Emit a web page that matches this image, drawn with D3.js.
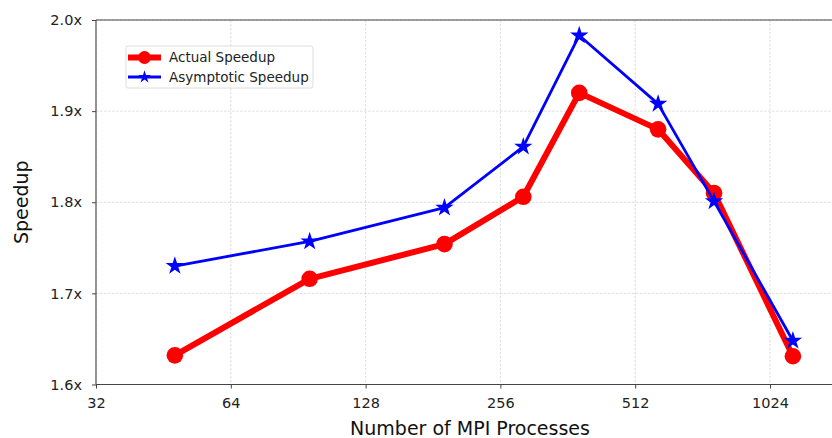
<!DOCTYPE html>
<html><head><meta charset="utf-8">
<script src="https://cdn.jsdelivr.net/npm/d3@7"></script>
<style>body{margin:0;background:#fff;}svg{display:block;font-family:"DejaVu Sans",sans-serif;}</style>
</head><body>
<svg id="c" width="832" height="438"></svg>
<script>
const processes = [48, 96, 192, 288, 384, 576, 768, 1152];
const actualSpeedup = [1.632, 1.716, 1.754, 1.806, 1.920, 1.880, 1.810, 1.631];
const asymptoticSpeedup = [1.730, 1.757, 1.794, 1.861, 1.983, 1.908, 1.801, 1.648];
const xTicks = [32, 64, 128, 256, 512, 1024];
const yTicks = [1.6, 1.7, 1.8, 1.9, 2.0];

(function () {
const svg = d3.select("#c");
const mLeft = 96, mTop = 20, mBottom = 384.5, mRight = 832;
const octave = 134.8;
const x = d3.scaleLog().base(2).domain([32, 1536]).range([mLeft, mLeft + octave * Math.log2(48)]);
const y = d3.scaleLinear().domain([1.6, 2.0]).range([mBottom, mTop]);

// grid
const g = svg.append("g");
g.selectAll(".vg").data(xTicks).join("line")
  .attr("x1", d => x(d)).attr("x2", d => x(d)).attr("y1", mTop).attr("y2", mBottom)
  .attr("stroke", "#d4d4d4").attr("stroke-width", 0.8).attr("stroke-dasharray", "2.5,1.5");
g.selectAll(".hg").data(yTicks).join("line")
  .attr("x1", mLeft).attr("x2", mRight).attr("y1", d => y(d)).attr("y2", d => y(d))
  .attr("stroke", "#d4d4d4").attr("stroke-width", 0.8).attr("stroke-dasharray", "2.5,1.5");

// axes
const xAxis = d3.axisBottom(x).tickValues(xTicks).tickFormat(d3.format("d")).tickSizeOuter(0).tickSize(4).tickPadding(9.5);
const gx = svg.append("g").attr("transform", `translate(0,${mBottom})`).call(xAxis);
const yAxis = d3.axisLeft(y).tickValues(yTicks).tickFormat(d => d.toFixed(1) + "x").tickSizeOuter(0).tickSize(4).tickPadding(10);
const gy = svg.append("g").attr("transform", `translate(${mLeft},0)`).call(yAxis);
[gx, gy].forEach(a => {
  a.select(".domain").remove();
  a.selectAll(".tick line").attr("stroke", "#444").attr("stroke-width", 1);
  a.selectAll(".tick text").attr("fill", "#222").style("font-size", "14.5px").style("font-family", "DejaVu Sans");
});
// spines
svg.append("line").attr("x1", mLeft).attr("x2", mRight).attr("y1", mBottom).attr("y2", mBottom).attr("stroke", "#444").attr("stroke-width", 1.1);
svg.append("line").attr("x1", mLeft).attr("x2", mLeft).attr("y1", mTop).attr("y2", mBottom).attr("stroke", "#444").attr("stroke-width", 1.1);
svg.append("line").attr("x1", mLeft).attr("x2", mRight).attr("y1", mTop).attr("y2", mTop).attr("stroke", "#444").attr("stroke-width", 1.1);

// labels
svg.append("text").attr("x", 470).attr("y", 435).attr("text-anchor", "middle")
  .style("font-size", "19px").attr("fill", "#111").text("Number of MPI Processes");
svg.append("text").attr("transform", `translate(28,${(mTop + mBottom) / 2}) rotate(-90)`).attr("text-anchor", "middle")
  .style("font-size", "19px").attr("fill", "#111").text("Speedup");

const line = d3.line().x(d => x(d[0])).y(d => y(d[1]));
const actual = processes.map((p, i) => [p, actualSpeedup[i]]);
const asym = processes.map((p, i) => [p, asymptoticSpeedup[i]]);

svg.append("path").datum(actual).attr("d", line).attr("fill", "none").attr("stroke", "#ff0000").attr("stroke-width", 6).attr("stroke-linejoin", "round");
svg.selectAll(".dot").data(actual).join("circle").attr("cx", d => x(d[0])).attr("cy", d => y(d[1])).attr("r", 8.3).attr("fill", "#ff0000");

svg.append("path").datum(asym).attr("d", line).attr("fill", "none").attr("stroke", "#0000ff").attr("stroke-width", 2.8).attr("stroke-linejoin", "round");
const star = d3.symbol().type(d3.symbolStar).size(105);
svg.selectAll(".star").data(asym).join("path").attr("d", star)
  .attr("transform", d => `translate(${x(d[0])},${y(d[1])})`).attr("fill", "#0000ff");

// legend
const lg = svg.append("g");
lg.append("rect").attr("x", 126).attr("y", 46).attr("width", 187).attr("height", 42).attr("rx", 2)
  .attr("fill", "#fff").attr("fill-opacity", 0.8).attr("stroke", "#dddddd").attr("stroke-width", 1);
lg.append("line").attr("x1", 128).attr("x2", 161).attr("y1", 57.5).attr("y2", 57.5).attr("stroke", "#ff0000").attr("stroke-width", 6);
lg.append("circle").attr("cx", 144.5).attr("cy", 57.5).attr("r", 6.5).attr("fill", "#ff0000");
lg.append("line").attr("x1", 128).attr("x2", 161).attr("y1", 77).attr("y2", 77).attr("stroke", "#0000ff").attr("stroke-width", 2.8);
lg.append("path").attr("d", d3.symbol().type(d3.symbolStar).size(50)).attr("transform", "translate(144.5,77)").attr("fill", "#0000ff");
lg.append("text").attr("x", 169).attr("y", 62).style("font-size", "13.5px").attr("fill", "#222").text("Actual Speedup");
lg.append("text").attr("x", 169).attr("y", 81.5).style("font-size", "13.5px").attr("fill", "#222").text("Asymptotic Speedup");
})();
</script>
</body></html>
